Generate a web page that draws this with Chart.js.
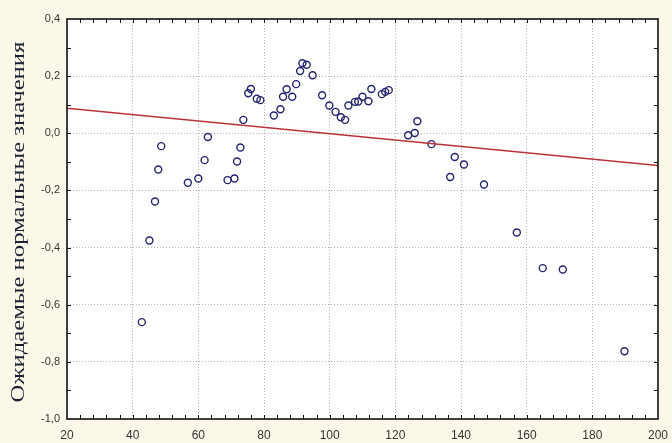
<!DOCTYPE html>
<html>
<head>
<meta charset="utf-8">
<script src="https://cdn.jsdelivr.net/npm/chart.js@4"></script>
<style>
    html, body { margin: 0; padding: 0; background: #fcf8e9; }
    #wrap { width: 672px; height: 443px; }
</style>
</head>
<body>
<div id="wrap"><canvas id="normalChart"></canvas></div>
<script>
// Observed values (x) vs expected normal values (y)
const xValues = [42.8, 45.1, 46.8, 47.8, 48.7, 56.8, 60.0, 61.9, 62.9, 68.9,
    71.0, 71.8, 72.8, 73.7, 75.2, 76.0, 77.8, 78.9, 83.0, 85.0,
    85.8, 86.9, 88.6, 89.8, 91.0, 91.7, 93.0, 94.8, 97.7, 99.9,
    101.8, 103.4, 104.7, 105.7, 107.7, 108.7, 110.0, 111.8, 112.7, 115.9,
    116.9, 118.0, 123.9, 125.9, 126.7, 131.0, 136.7, 138.1, 140.9, 147.0,
    157.0, 164.9, 171.0, 189.8];
const yValues = [-0.661, -0.375, -0.239, -0.127, -0.045, -0.173, -0.158, -0.094, -0.013, -0.164,
    -0.158, -0.099, -0.050, 0.047, 0.140, 0.155, 0.121, 0.116, 0.062, 0.084,
    0.128, 0.154, 0.128, 0.172, 0.218, 0.245, 0.240, 0.203, 0.133, 0.097,
    0.075, 0.056, 0.047, 0.097, 0.110, 0.111, 0.128, 0.112, 0.155, 0.137,
    0.145, 0.151, -0.007, 0.001, 0.042, -0.038, -0.153, -0.083, -0.109, -0.179,
    -0.347, -0.472, -0.477, -0.763];

// Fitted line end points
const fitX = [20, 200];
const fitY = [0.088, -0.113];

// Axis ticks
const xTickValues = [20, 40, 60, 80, 100, 120, 140, 160, 180, 200];
const yTickValues = [-1.0, -0.8, -0.6, -0.4, -0.2, 0.0, 0.2, 0.4];

const yTitle = 'Ожидаемые нормальные значения';

// Background, frame with inward minor ticks, and stretched y title
const framePlugin = {
    id: 'frame',
    beforeDraw(chart) {
        const ctx = chart.ctx;
        const a = chart.chartArea;
        ctx.save();
        ctx.fillStyle = '#fcf8e9';
        ctx.fillRect(0, 0, chart.width, chart.height);
        ctx.fillStyle = '#ffffff';
        ctx.fillRect(a.left, a.top, a.right - a.left, a.bottom - a.top);
        ctx.restore();
    },
    afterDatasetsDraw(chart) {
        const ctx = chart.ctx;
        const a = chart.chartArea;
        const xs = chart.scales.x;
        const ys = chart.scales.y;
        ctx.save();
        ctx.strokeStyle = '#111111';
        ctx.lineWidth = 1;
        ctx.beginPath();
        for (let v = 24; v < 200; v += 4) {
            const px = Math.round(xs.getPixelForValue(v)) + 0.5;
            ctx.moveTo(px, a.bottom);
            ctx.lineTo(px, a.bottom - 4);
            ctx.moveTo(px, a.top);
            ctx.lineTo(px, a.top + 4);
        }
        for (let i = -9; i < 4; i++) {
            const py = Math.round(ys.getPixelForValue(i / 10)) + 0.5;
            ctx.moveTo(a.left, py);
            ctx.lineTo(a.left + 4, py);
            ctx.moveTo(a.right, py);
            ctx.lineTo(a.right - 4, py);
        }
        ctx.stroke();
        ctx.lineWidth = 1.6;
        ctx.strokeRect(a.left, a.top, a.right - a.left, a.bottom - a.top);

        // y axis title
        ctx.translate(19, (a.top + a.bottom) / 2 + 3);
        ctx.rotate(-Math.PI / 2);
        ctx.scale(1.3, 1);
        ctx.font = '19px "Liberation Serif", serif';
        ctx.fillStyle = '#1c2030';
        ctx.textAlign = 'center';
        ctx.textBaseline = 'middle';
        ctx.fillText(yTitle, 0, 0);
        ctx.restore();
    }
};

const points = xValues.map((x, i) => ({ x: x, y: yValues[i] }));
const fitLine = fitX.map((x, i) => ({ x: x, y: fitY[i] }));

const gridOpts = {
    color: (c) => (c.index === 0 || c.index === 9 || (c.scale.axis === 'y' && c.index === 7)) ? 'rgba(0,0,0,0)' : '#b5b5b5',
    lineWidth: 1,
    drawTicks: false
};

new Chart(document.getElementById('normalChart').getContext('2d'), {
    type: 'scatter',
    data: {
        datasets: [{
            type: 'line',
            data: fitLine,
            borderColor: '#b8323a',
            borderWidth: 1.5,
            pointRadius: 0,
            fill: false
        }, {
            data: points,
            pointStyle: 'circle',
            pointRadius: 3.5,
            pointBorderWidth: 1.4,
            borderColor: '#23236e',
            backgroundColor: 'rgba(0,0,0,0)'
        }]
    },
    options: {
        responsive: true,
        maintainAspectRatio: false,
        animation: false,
        layout: {
            padding: { top: 19, right: 14, left: 0, bottom: 0 }
        },
        plugins: {
            legend: { display: false },
            tooltip: { enabled: false }
        },
        scales: {
            x: {
                type: 'linear',
                min: 20,
                max: 200,
                afterBuildTicks: (axis) => { axis.ticks = xTickValues.map(v => ({ value: v })); },
                afterFit: (axis) => {
                    axis.height = 24;
                    axis.paddingLeft = 0;
                    axis.paddingRight = 0;
                },
                grid: gridOpts,
                border: { display: false, dash: [1, 2] },
                ticks: {
                    padding: 9,
                    color: '#333333',
                    font: { family: '"Liberation Sans", Arial, sans-serif', size: 12 },
                    callback: (v) => String(v)
                }
            },
            y: {
                type: 'linear',
                min: -1.0,
                max: 0.4,
                afterBuildTicks: (axis) => { axis.ticks = yTickValues.map(v => ({ value: v })); },
                afterFit: (axis) => {
                    axis.width = 67;
                    axis.paddingTop = 0;
                    axis.paddingBottom = 0;
                },
                grid: gridOpts,
                border: { display: false, dash: [1, 2] },
                ticks: {
                    padding: 7,
                    color: '#333333',
                    font: { family: '"Liberation Sans", Arial, sans-serif', size: 11 },
                    callback: (v) => v.toFixed(1).replace('.', ',')
                }
            }
        }
    },
    plugins: [framePlugin]
});
</script>
</body>
</html>
